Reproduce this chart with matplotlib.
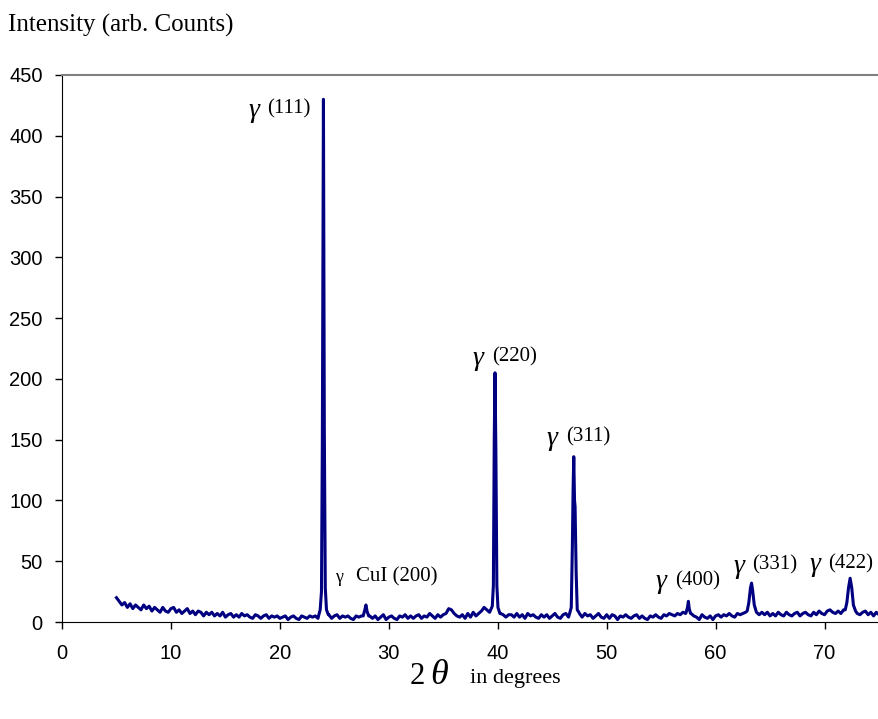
import numpy as np
import matplotlib
matplotlib.use("Agg")
import matplotlib.pyplot as plt

# background scan, 5 to 75 deg in 0.25 deg steps
bg_start, bg_step = 5.0, 0.25
bg_counts = [20,
    17, 14, 16, 12, 15, 11, 14, 12, 10, 14, 11, 13,
    9, 12, 10, 8, 12, 9, 8, 11, 12, 8, 10, 7,
    9, 11, 7, 9, 6, 9, 8, 5, 8, 6, 8, 5,
    7, 5, 8, 4, 6, 7, 4, 6, 4, 7, 5, 6,
    4, 3, 6, 5, 3, 5, 6, 3, 5, 4, 5, 3,
    4, 5, 2, 4, 5, 3, 2, 5, 4, 3, 5, 4,
    5, 3, 6, 5, 4, 6, 3, 5, 6, 3, 5, 4,
    5, 3, 2, 5, 4, 5, 3, 6, 5, 3, 5, 2,
    4, 6, 2, 4, 5, 3, 2, 5, 4, 6, 3, 5,
    3, 5, 6, 3, 5, 4, 7, 5, 3, 6, 4, 6,
    7, 11, 10, 7, 5, 4, 6, 3, 7, 4, 8, 5,
    7, 9, 12, 10, 8, 7, 8, 5, 7, 6, 4, 6,
    6, 4, 7, 4, 6, 3, 7, 5, 6, 4, 3, 6,
    4, 6, 3, 5, 7, 4, 3, 6, 7, 4, 6, 6,
    6, 7, 4, 7, 5, 6, 3, 5, 7, 4, 3, 6,
    3, 6, 5, 2, 5, 4, 6, 4, 3, 5, 6, 3,
    5, 3, 2, 5, 4, 6, 4, 3, 6, 5, 7, 6,
    5, 7, 6, 8, 7, 9, 7, 5, 4, 2, 6, 4,
    3, 5, 2, 5, 6, 4, 6, 5, 7, 5, 4, 7,
    6, 7, 8, 9, 8, 8, 9, 6, 8, 6, 8, 5,
    7, 5, 8, 6, 5, 8, 6, 5, 7, 8, 5, 7,
    8, 6, 5, 8, 6, 9, 7, 6, 9, 10, 8, 7,
    9, 7, 10, 8, 7, 6, 9, 7, 6, 8, 9, 6,
    8, 5, 8, 6]

# peaks: (two-theta, counts)
peak_111_x = [23.55, 23.7, 23.82, 23.9, 24.0, 24.08, 24.17, 24.28, 24.45]
peak_111_y = [5, 10, 25, 150, 430, 160, 28, 10, 6]
peak_cui_x = [27.65, 27.8, 27.9, 28.0, 28.15]
peak_cui_y = [5, 10, 14, 9, 5]
peak_220_x = [39.35, 39.5, 39.6, 39.68, 39.75, 39.83, 39.92, 40.02, 40.2]
peak_220_y = [10, 13, 30, 150, 205, 140, 30, 12, 7]
peak_311_x = [46.6, 46.75, 46.85, 46.92, 46.98, 47.05, 47.1, 47.2, 47.3, 47.45]
peak_311_y = [7, 12, 62, 110, 136, 100, 95, 40, 10, 8]
peak_400_x = [57.3, 57.42, 57.5, 57.58, 57.7]
peak_400_y = [8, 12, 17, 11, 7]
peak_331_x = [62.9, 63.05, 63.2, 63.3, 63.4, 63.55, 63.75]
peak_331_y = [9, 16, 28, 32, 26, 14, 8]
peak_422_x = [71.9, 72.05, 72.2, 72.35, 72.5, 72.65, 72.85]
peak_422_y = [10, 16, 28, 36, 28, 14, 9]

labels = ["(111)", "(220)", "(311)", "(400)", "(331)", "(422)"]
label_pos = [(17.1, 421), (37.7, 217), (44.5, 151), (54.5, 33), (61.6, 46), (68.6, 47)]

# merge background and peak segments
bg_x = bg_start + bg_step * np.arange(len(bg_counts))
peaks = [(peak_111_x, peak_111_y), (peak_cui_x, peak_cui_y), (peak_220_x, peak_220_y),
         (peak_311_x, peak_311_y), (peak_400_x, peak_400_y), (peak_331_x, peak_331_y),
         (peak_422_x, peak_422_y)]
keep = np.ones(len(bg_x), dtype=bool)
for px, py in peaks:
    keep &= ~((bg_x >= px[0]) & (bg_x <= px[-1]))
x = np.concatenate([bg_x[keep]] + [np.array(px) for px, _ in peaks])
y = np.concatenate([np.array(bg_counts)[keep]] + [np.array(py) for _, py in peaks])
order = np.argsort(x)
x, y = x[order], y[order]

serif = "Liberation Serif"
sans = "Liberation Sans"

fig = plt.figure(figsize=(8.79, 7.19), dpi=100)
ax = fig.add_axes([62 / 879, 97 / 719, 817 / 879, 547 / 719])

ax.plot(x, y, color="#000080", linewidth=2.2)

ax.set_xlim(0, 75)
ax.set_ylim(0, 450)
ax.set_xticks(range(0, 71, 10))
ax.set_yticks(range(0, 451, 50))
for lab in ax.get_xticklabels() + ax.get_yticklabels():
    lab.set_fontfamily(sans)
    lab.set_fontsize(14.5)
ax.tick_params(direction="out", length=5, width=1, color="black")
ax.tick_params(axis="y", pad=9)
ax.tick_params(axis="x", pad=11)
ax.spines["right"].set_visible(False)
ax.spines["top"].set_color("#808080")
ax.spines["top"].set_linewidth(1.5)

for (tx, ty), lab in zip(label_pos, labels):
    ax.text(tx, ty, "\u03b3", fontfamily=serif, fontstyle="italic", fontsize=20,
            ha="left", va="center")
    ax.text(tx + 1.75, ty + 1, lab, fontfamily=serif, fontsize=15, ha="left", va="center")

ax.text(25.1, 37, "\u03b3", fontfamily=serif, fontsize=13, ha="left", va="center")
ax.text(27.0, 37, "CuI (200)", fontfamily=serif, fontsize=15, ha="left", va="center")

fig.text(8 / 879, 1 - 25 / 719, "Intensity (arb. Counts)", fontfamily=serif,
         fontsize=18, ha="left", va="center")
fig.text(425 / 879, 1 - 677 / 719, "2", fontfamily=serif, fontsize=22, ha="right", va="center")
fig.text(430 / 879, 1 - 675 / 719, "\u03b8", fontfamily=serif, fontstyle="italic",
         fontsize=26, ha="left", va="center")
fig.text(470 / 879, 1 - 678 / 719, "in degrees", fontfamily=serif, fontsize=16,
         ha="left", va="center")

fig.savefig("out.png", dpi=100)
